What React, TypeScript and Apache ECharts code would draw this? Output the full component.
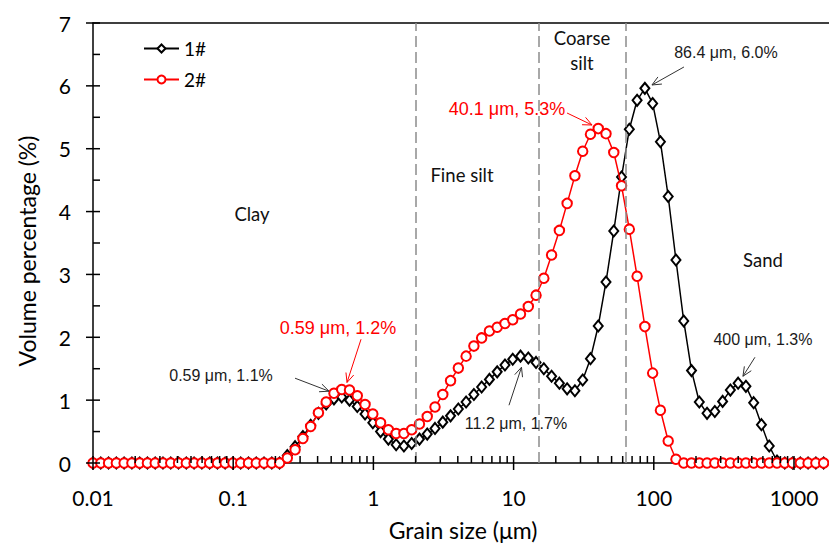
import React, { useEffect, useRef } from "react";
import * as echarts from "echarts";

// Grain size classes (μm)
const grainSizes = [
  0.01, 0.01136, 0.01291, 0.01467, 0.01667, 0.01894, 0.02152, 0.02444, 0.02778, 0.03155,
  0.03585, 0.04074, 0.04629, 0.05259, 0.05976, 0.06791, 0.07716, 0.0876, 0.09952, 0.1131,
  0.1285, 0.146, 0.1659, 0.1885, 0.2142, 0.2432, 0.2764, 0.3141, 0.3568, 0.4054,
  0.4605, 0.5233, 0.5944, 0.6754, 0.7674, 0.8718, 0.9905, 1.125, 1.279, 1.453,
  1.651, 1.875, 2.131, 2.421, 2.751, 3.125, 3.551, 4.035, 4.584, 5.208,
  5.916, 6.723, 7.638, 8.679, 9.858, 11.2, 12.73, 14.46, 16.43, 18.66,
  21.21, 24.09, 27.37, 31.11, 35.34, 40.15, 45.61, 51.82, 58.88, 66.9,
  76.01, 86.36, 98.11, 111.5, 126.7, 143.9, 163.5, 185.8, 211.1, 239.8,
  272.4, 309.6, 351.7, 399.6, 454, 515.8, 586.1, 665.8, 756.5, 859.5,
  976.5, 1109, 1260, 1432, 1627,
];

// Volume percentage (%) of sample 1#
const sample1 = [
  0, 0, 0, 0, 0, 0, 0, 0, 0, 0,
  0, 0, 0, 0, 0, 0, 0, 0, 0, 0,
  0, 0, 0, 0, 0, 0.12, 0.26, 0.42, 0.6, 0.79,
  0.94, 1.02, 1.05, 1.0, 0.9, 0.78, 0.64, 0.5, 0.38, 0.29,
  0.27, 0.31, 0.38, 0.46, 0.55, 0.65, 0.75, 0.86, 0.97, 1.09,
  1.21, 1.33, 1.45, 1.56, 1.65, 1.7, 1.67, 1.6, 1.5, 1.38,
  1.27, 1.18, 1.15, 1.32, 1.66, 2.18, 2.88, 3.69, 4.55, 5.31,
  5.77, 5.96, 5.72, 5.11, 4.24, 3.23, 2.26, 1.47, 0.97, 0.79,
  0.82, 0.98, 1.16, 1.27, 1.22, 0.96, 0.61, 0.27, 0.03, 0,
  0, 0, 0, 0, 0,
];

// Volume percentage (%) of sample 2#
const sample2 = [
  0, 0, 0, 0, 0, 0, 0, 0, 0, 0,
  0, 0, 0, 0, 0, 0, 0, 0, 0, 0,
  0, 0, 0, 0, 0, 0.08, 0.21, 0.39, 0.58, 0.8,
  0.97, 1.11, 1.17, 1.16, 1.07, 0.93, 0.78, 0.64, 0.53, 0.47,
  0.47, 0.53, 0.62, 0.74, 0.89, 1.09, 1.31, 1.51, 1.7, 1.86,
  1.99, 2.1, 2.16, 2.22, 2.28, 2.37, 2.49, 2.67, 2.94, 3.31,
  3.7, 4.13, 4.57, 4.96, 5.23, 5.32, 5.24, 4.94, 4.41, 3.72,
  2.97, 2.17, 1.43, 0.84, 0.35, 0.06, 0, 0, 0, 0,
  0, 0, 0, 0, 0, 0, 0, 0, 0, 0,
  0, 0, 0, 0, 0,
];

const seriesNames = ["1#", "2#"];
const xMajorTicks = [0.01, 0.1, 1, 10, 100, 1000];
const xMinorTicks = [
  0.02, 0.03, 0.04, 0.05, 0.06, 0.07, 0.08, 0.09,
  0.2, 0.3, 0.4, 0.5, 0.6, 0.7, 0.8, 0.9,
  2, 3, 4, 5, 6, 7, 8, 9,
  20, 30, 40, 50, 60, 70, 80, 90,
  200, 300, 400, 500, 600, 700, 800, 900,
];
const yMajorTicks = [0, 1, 2, 3, 4, 5, 6, 7];
const yMinorTicks = [0.5, 1.5, 2.5, 3.5, 4.5, 5.5, 6.5];
const boundaries = [2, 15, 63]; // Clay / Fine silt / Coarse silt / Sand limits (μm)

// Peak annotations: series index, class index, text
const peakSeries = [0, 1, 0, 1, 0, 0];
const peakIndex = [32, 32, 55, 65, 71, 83];
const peakTexts = [
  "0.59 μm, 1.1%",
  "0.59 μm, 1.2%",
  "11.2 μm, 1.7%",
  "40.1 μm, 5.3%",
  "86.4 μm, 6.0%",
  "400 μm, 1.3%",
];

// Layout (pixel offsets from the peak point)
const annoLayout = [
  { tip: [-12.7, -5.8], start: [-46.7, -18.8], text: [-120.7, -21.8] },
  { tip: [5.3, -7], start: [19.3, -50.2], text: [-3.7, -61.2] },
  { tip: [1, 11.1], start: [-11.5, 49.1], text: [-4.5, 67.1] },
  { tip: [-6.2, -3.6], start: [-31.2, -15.6], text: [-91.2, -19.6] },
  { tip: [7.1, -3.4], start: [39.1, -21.4], text: [81.1, -35.4] },
  { tip: [4.8, -6.9], start: [16.8, -25.9], text: [24.8, -43.9] },
];

const colors = ["#000000", "#FF0000"];
const X_MAX = 1777;

function pairs(xs: number[], ys: number[]) {
  return xs.map((x, i) => [x, ys[i]]);
}

function tickSeries(name: string, data: number[][], kind: string) {
  return {
    type: "custom",
    name,
    data,
    silent: true,
    clip: false,
    z: 10,
    renderItem: (_p: any, api: any) => {
      const p = api.coord([api.value(0), api.value(1)]);
      let shape: any;
      const L = 7;
      if (kind === "xMajor") shape = { x1: p[0], y1: p[1] - L, x2: p[0], y2: p[1] + L };
      else if (kind === "xMinor") shape = { x1: p[0], y1: p[1] - L, x2: p[0], y2: p[1] };
      else if (kind === "yMajor") shape = { x1: p[0] - L, y1: p[1], x2: p[0] + L, y2: p[1] };
      else shape = { x1: p[0], y1: p[1], x2: p[0] + L, y2: p[1] };
      return { type: "line", shape, style: { stroke: "#000", lineWidth: 1.5 } };
    },
  };
}

function arrow(sx: number, sy: number, tx: number, ty: number, color: string) {
  const ang = Math.atan2(ty - sy, tx - sx);
  const L = 10;
  const a = 0.42;
  const p1 = [tx - L * Math.cos(ang - a), ty - L * Math.sin(ang - a)];
  const p2 = [tx - L * Math.cos(ang + a), ty - L * Math.sin(ang + a)];
  return [
    { type: "line", silent: true, z: 20, shape: { x1: sx, y1: sy, x2: tx, y2: ty }, style: { stroke: color, lineWidth: 1 } },
    { type: "polyline", silent: true, z: 20, shape: { points: [p1, [tx, ty], p2] }, style: { stroke: color, fill: null, lineWidth: 1 } },
  ];
}

function regionText(text: string, x: number, y: number) {
  return {
    type: "text",
    x,
    y,
    silent: true,
    style: { text, fontFamily: "Lato", fontSize: 18.5, fill: "#111", align: "center", verticalAlign: "middle" },
  };
}

export default function App() {
  const ref = useRef<HTMLDivElement>(null);

  useEffect(() => {
    document.body.style.margin = "0";
    if (!ref.current) return;
    const chart = echarts.init(ref.current, null, { renderer: "svg" });

    const logLabel = (v: number) => {
      const l = Math.log10(v);
      const r = Math.round(l);
      if (Math.abs(l - r) > 1e-6) return "";
      return r < 0 ? Math.pow(10, r).toFixed(-r) : String(Math.round(Math.pow(10, r)));
    };

    const option: any = {
      animation: false,
      backgroundColor: "#fff",
      grid: { left: 93, right: 0, top: 23, bottom: 80, containLabel: false },
      legend: {
        data: seriesNames,
        orient: "vertical",
        left: 138,
        top: 34,
        itemWidth: 35,
        itemHeight: 10,
        itemGap: 12,
        textStyle: { fontFamily: "Lato", fontSize: 19, color: "#000" },
      },
      xAxis: [
        {
          type: "log",
          logBase: 10,
          min: 0.01,
          max: X_MAX,
          position: "bottom",
          axisLine: { show: true, lineStyle: { color: "#000", width: 1.5 } },
          axisTick: { show: false },
          splitLine: { show: false },
          axisLabel: { formatter: logLabel, fontFamily: "Lato", fontSize: 21, color: "#000", margin: 24, showMaxLabel: false },
        },
        {
          type: "log",
          logBase: 10,
          min: 0.01,
          max: X_MAX,
          position: "top",
          axisLine: { show: true, onZero: false, lineStyle: { color: "#000", width: 1.5 } },
          axisTick: { show: false },
          axisLabel: { show: false },
          splitLine: { show: false },
        },
      ],
      yAxis: {
        type: "value",
        min: 0,
        max: 7,
        interval: 1,
        axisLine: { show: true, lineStyle: { color: "#000", width: 1.5 } },
        axisTick: { show: false },
        splitLine: { show: false },
        axisLabel: { fontFamily: "Lato", fontSize: 21, color: "#000", margin: 22 },
      },
      series: [
        {
          name: seriesNames[0],
          type: "line",
          data: pairs(grainSizes, sample1),
          symbol: "emptyDiamond",
          symbolSize: [9, 11],
          lineStyle: { color: colors[0], width: 1.5 },
          itemStyle: { color: colors[0], borderWidth: 1.2 },
          z: 3,
          markLine: {
            silent: true,
            symbol: ["none", "none"],
            label: { show: false },
            lineStyle: { color: "#8c8c8c", type: [11, 5], width: 1.5 },
            data: boundaries.map((b) => ({ xAxis: b })),
          },
        },
        {
          name: seriesNames[1],
          type: "line",
          data: pairs(grainSizes, sample2),
          symbol: "emptyCircle",
          symbolSize: 9.5,
          lineStyle: { color: colors[1], width: 1.5 },
          itemStyle: { color: colors[1], borderWidth: 1.5 },
          z: 4,
        },
        tickSeries("xMajor", xMajorTicks.map((v) => [v, 0]), "xMajor"),
        tickSeries("xMinor", xMinorTicks.map((v) => [v, 0]), "xMinor"),
        tickSeries("yMajor", yMajorTicks.map((v) => [0.01, v]), "yMajor"),
        tickSeries("yMinor", yMinorTicks.map((v) => [0.01, v]), "yMinor"),
      ],
    };

    chart.setOption(option);

    const graphics: any[] = [
      {
        type: "text",
        x: 27,
        y: 251,
        rotation: Math.PI / 2,
        silent: true,
        style: { text: "Volume percentage (%)", fontFamily: "Lato", fontSize: 23, fill: "#000", align: "center", verticalAlign: "middle" },
      },
      {
        type: "text",
        x: 463,
        y: 530,
        silent: true,
        style: { text: "Grain size (μm)", fontFamily: "Lato", fontSize: 23, fill: "#000", align: "center", verticalAlign: "middle" },
      },
      regionText("Clay", 252, 214),
      regionText("Fine silt", 462, 175),
      regionText("Coarse", 582, 38),
      regionText("silt", 582, 63),
      regionText("Sand", 763, 260),
    ];

    peakIndex.forEach((k, i) => {
      const s = peakSeries[i];
      const ys = s === 0 ? sample1 : sample2;
      const p = chart.convertToPixel({ seriesIndex: s }, [grainSizes[k], ys[k]]) as number[];
      if (!p) return;
      const lay = annoLayout[i];
      const red = s === 1;
      const col = red ? "#FF0000" : "#333333";
      graphics.push(...arrow(p[0] + lay.start[0], p[1] + lay.start[1], p[0] + lay.tip[0], p[1] + lay.tip[1], col));
      graphics.push({
        type: "text",
        x: p[0] + lay.text[0],
        y: p[1] + lay.text[1],
        silent: true,
        z: 20,
        style: {
          text: peakTexts[i],
          fontFamily: "Liberation Sans, Arial, sans-serif",
          fontSize: red ? 18 : 16,
          fill: red ? "#FF0000" : "#1a1a1a",
          align: "center",
          verticalAlign: "middle",
        },
      });
    });

    chart.setOption({ graphic: graphics });

    return () => chart.dispose();
  }, []);

  return <div ref={ref} style={{ width: 829, height: 543 }} />;
}
